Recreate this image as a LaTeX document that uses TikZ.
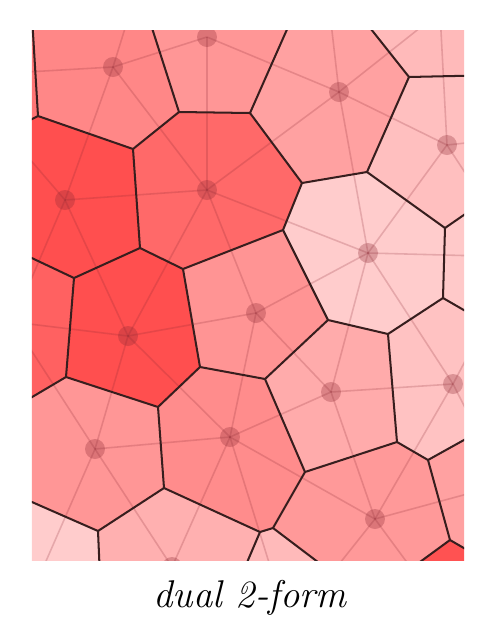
\documentclass[tikz,border=0pt]{standalone}

\begin{document}
\begin{tikzpicture}[x=0.02cm,y=-0.02cm,
    cell/.style={fill=red!#1!white},
    dualedge/.style={draw={rgb,255:red,55;green,30;blue,30},line width=1.15pt,line cap=round,line join=round},
    primal/.style={draw={rgb,255:red,140;green,40;blue,50},draw opacity=0.22,line width=0.9pt},
    site/.style={fill={rgb,255:red,140;green,40;blue,50},fill opacity=0.3}]
    \useasboundingbox (0,0) rectangle (497,637);

    % voronoi vertices
    \coordinate (va) at (38,116);  \coordinate (vb) at (133,149); \coordinate (vc) at (179,112);
    \coordinate (vd) at (250,113); \coordinate (ve) at (140,248); \coordinate (vf) at (74,278);
    \coordinate (vg) at (183,269); \coordinate (vh) at (302,183); \coordinate (vi) at (409,77);
    \coordinate (vj) at (367,172); \coordinate (vk) at (283,230); \coordinate (vl) at (445,228);
    \coordinate (vm) at (66,377);  \coordinate (vn) at (158,407); \coordinate (vo) at (200,367);
    \coordinate (vp) at (164,488); \coordinate (vq) at (98,531);  \coordinate (vr) at (328,320);
    \coordinate (vs) at (388,334); \coordinate (vt) at (443,298); \coordinate (vu) at (265,379);
    \coordinate (vv) at (305,472); \coordinate (vw) at (397,442); \coordinate (vx) at (428,460);
    \coordinate (vy) at (450,540); \coordinate (vz1) at (260,532); \coordinate (vz2) at (273,528);
    % open ends, outside the window
    \coordinate (at) at (31,0);   \coordinate (al) at (0,135);  \coordinate (ct) at (143,0);
    \coordinate (dt) at (300,0);  \coordinate (it) at (348,0);  \coordinate (ir) at (500,75);
    \coordinate (lr) at (500,190); \coordinate (tr) at (500,331); \coordinate (fl) at (0,243);
    \coordinate (ml) at (0,416);  \coordinate (ql) at (0,488);  \coordinate (qb) at (101,600);
    \coordinate (xr) at (500,420); \coordinate (yr) at (500,569); \coordinate (yb) at (368,600);
    \coordinate (z1b) at (231,600);

    % sites
    \coordinate (s1) at (113,67);  \coordinate (s2) at (207,37);  \coordinate (s3) at (339,92);
    \coordinate (s4) at (447,145); \coordinate (s5) at (65,200);  \coordinate (s6) at (207,190);
    \coordinate (s7) at (368,253); \coordinate (s8) at (128,336); \coordinate (s9) at (256,313);
    \coordinate (s10) at (95,449); \coordinate (s11) at (230,437); \coordinate (s12) at (331,392);
    \coordinate (s13) at (453,384); \coordinate (s14) at (375,519);
    \coordinate (sl1) at (-42,76); \coordinate (sl3) at (13,322); \coordinate (sl4) at (36,584);
    \coordinate (sb1) at (172,567); \coordinate (sb2) at (289,627); \coordinate (sbr) at (448,618);
    \coordinate (sr0) at (540,135); \coordinate (sr1) at (520,257); \coordinate (sr2) at (504,484);
    \coordinate (str) at (440,12); \coordinate (st1) at (140,-20); \coordinate (st3) at (325,-30);

    \begin{scope}
    \clip (32,30) rectangle (464,560);
    % dual cells
    \fill[cell=54] (0,0) -- (at) -- (va) -- (al) -- cycle;
    \fill[cell=47] (at) -- (ct) -- (vc) -- (vb) -- (va) -- cycle;
    \fill[cell=41] (ct) -- (dt) -- (vd) -- (vc) -- cycle;
    \fill[cell=37] (dt) -- (it) -- (vi) -- (vj) -- (vh) -- (vd) -- cycle;
    \fill[cell=27] (it) -- (500,0) -- (ir) -- (vi) -- cycle;
    \fill[cell=25] (vi) -- (ir) -- (lr) -- (vl) -- (vj) -- cycle;
    \fill[cell=69] (al) -- (va) -- (vb) -- (ve) -- (vf) -- (fl) -- cycle;
    \fill[cell=59] (vb) -- (vc) -- (vd) -- (vh) -- (vk) -- (vg) -- (ve) -- cycle;
    \fill[cell=20] (vh) -- (vj) -- (vl) -- (vt) -- (vs) -- (vr) -- (vk) -- cycle;
    \fill[cell=21] (vl) -- (lr) -- (tr) -- (vt) -- cycle;
    \fill[cell=62] (fl) -- (vf) -- (vm) -- (ml) -- cycle;
    \fill[cell=69] (vf) -- (ve) -- (vg) -- (vo) -- (vn) -- (vm) -- cycle;
    \fill[cell=42] (vg) -- (vk) -- (vr) -- (vu) -- (vo) -- cycle;
    \fill[cell=33] (vr) -- (vs) -- (vw) -- (vv) -- (vu) -- cycle;
    \fill[cell=24] (vt) -- (tr) -- (xr) -- (vx) -- (vw) -- (vs) -- cycle;
    \fill[cell=41] (ml) -- (vm) -- (vn) -- (vp) -- (vq) -- (ql) -- cycle;
    \fill[cell=45] (vn) -- (vo) -- (vu) -- (vv) -- (vz2) -- (vz1) -- (vp) -- cycle;
    \fill[cell=40] (vv) -- (vw) -- (vx) -- (vy) -- (yb) -- (vz2) -- cycle;
    \fill[cell=37] (vx) -- (xr) -- (yr) -- (vy) -- cycle;
    \fill[cell=68] (vy) -- (yr) -- (500,600) -- (yb) -- cycle;
    \fill[cell=20] (ql) -- (vq) -- (qb) -- (0,600) -- cycle;
    \fill[cell=31] (vq) -- (vp) -- (vz1) -- (z1b) -- (qb) -- cycle;
    \fill[cell=27] (vz1) -- (vz2) -- (yb) -- (z1b) -- cycle;

    % primal edges
    \foreach \a/\b in {s1/sl1,sl1/s5,s1/s5,s1/s6,s1/s2,s1/st1,s2/s6,s2/s3,s3/s6,s3/s7,
        s3/s4,s3/str,s3/st3,s4/str,s4/s7,s4/sr1,s4/sr0,s5/s6,s5/s8,s5/sl3,s6/s8,s6/s9,
        s6/s7,s7/s9,s7/s12,s7/s13,s7/sr1,s13/sr1,s8/sl3,s8/s10,s8/s11,s8/s9,s9/s11,
        s9/s12,s10/sl3,s10/s11,s10/sb1,s10/sl4,sl4/sb1,s11/sb1,s11/sb2,sb1/sb2,s11/s12,
        s11/s14,s14/sb2,s12/s14,s12/s13,s13/s14,s13/sr2,s14/sr2,sr2/sbr,s14/sbr}
        {\draw[primal] (\a) -- (\b);}
    \foreach \s in {s1,s2,s3,s4,s5,s6,s7,s8,s9,s10,s11,s12,s13,s14,sb1}
        {\fill[site] (\s) circle[radius=0.2cm];}

    % dual edges
    \foreach \a/\b in {at/va,va/al,va/vb,vb/vc,vc/ct,vc/vd,vd/dt,vd/vh,vh/vj,vj/vi,vi/it,
        vi/ir,vj/vl,vl/lr,vb/ve,ve/vf,vf/fl,ve/vg,vg/vk,vh/vk,vk/vr,vr/vs,vs/vt,vl/vt,
        vt/tr,vf/vm,vm/vn,vn/vo,vg/vo,vo/vu,vu/vr,vm/ml,vn/vp,vp/vq,vq/ql,vq/qb,vp/vz1,
        vz1/vz2,vz1/z1b,vu/vv,vv/vz2,vz2/yb,vv/vw,vs/vw,vw/vx,vx/xr,vx/vy,vy/yr,vy/yb}
        {\draw[dualedge] (\a) -- (\b);}
    \end{scope}

    \node[anchor=base] (caption) at (250,607) {\fontsize{22}{26}\selectfont\itshape dual 2-form};
\end{tikzpicture}
\end{document}
